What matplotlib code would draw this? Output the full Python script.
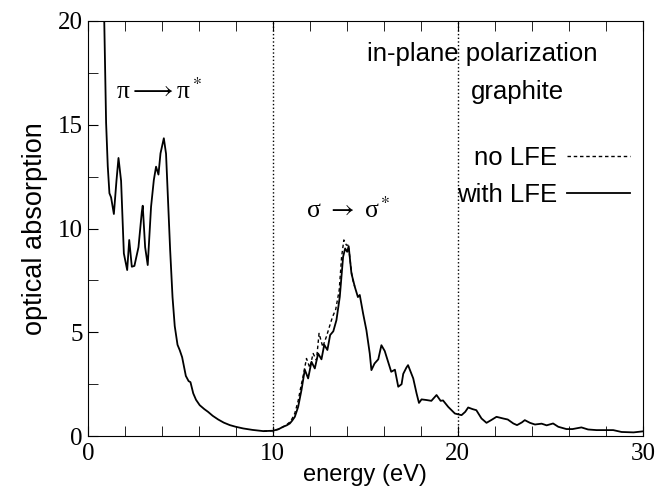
import numpy as np
import matplotlib
matplotlib.use("Agg")
from matplotlib import pyplot as plt
from matplotlib.ticker import MultipleLocator

plt.rcParams['mathtext.fontset'] = 'stix'

# with LFE (solid)
energy = [0.85, 0.9, 0.99, 1.08, 1.17, 1.26, 1.41, 1.55, 1.66, 1.8, 1.95, 2.13, 2.24, 2.38,
          2.52, 2.74, 2.92, 2.97, 3.1, 3.24, 3.42, 3.57, 3.69, 3.82, 3.93, 4.11, 4.23, 4.32,
          4.45, 4.58, 4.7, 4.85, 4.97, 5.1, 5.3, 5.45, 5.55, 5.7, 5.85, 6.05, 6.3, 6.5,
          6.75, 7.05, 7.35, 7.68, 8.0, 8.4, 8.9, 9.5, 10.0, 10.3, 10.56, 10.75, 10.92,
          11.05, 11.19, 11.37, 11.55, 11.73, 11.91, 12.09, 12.27, 12.45, 12.63, 12.78,
          12.95, 13.1, 13.27, 13.44, 13.62, 13.8, 13.91, 14.02, 14.1, 14.25, 14.43, 14.6,
          14.7, 14.88, 15.06, 15.24, 15.33, 15.5, 15.7, 15.87, 16.05, 16.23, 16.4, 16.6,
          16.78, 16.96, 17.05, 17.22, 17.31, 17.45, 17.59, 17.77, 17.9, 18.04, 18.3, 18.57,
          18.85, 19.07, 19.2, 19.48, 19.84, 20.2, 20.4, 20.56, 20.8, 21.0, 21.28, 21.55,
          21.8, 22.09, 22.45, 22.7, 23.0, 23.2, 23.46, 23.62, 23.9, 24.17, 24.53, 24.8,
          25.15, 25.43, 25.87, 26.2, 26.68, 27.04, 27.5, 27.86, 28.4, 28.85, 29.5, 30.0]
with_lfe = [22.0, 19.5, 15.1, 13.0, 11.7, 11.5, 10.7, 12.3, 13.4, 12.3, 8.8, 8.0, 9.45, 8.16,
            8.2, 9.1, 10.8, 11.1, 9.1, 8.24, 11.05, 12.34, 12.98, 12.6, 13.62, 14.35, 13.6, 11.7,
            9.0, 6.7, 5.3, 4.4, 4.14, 3.8, 2.9, 2.65, 2.6, 2.06, 1.75, 1.49, 1.3, 1.17,
            0.98, 0.8, 0.65, 0.53, 0.45, 0.37, 0.3, 0.24, 0.26, 0.33, 0.45, 0.52, 0.61,
            0.75, 0.93, 1.41, 2.22, 3.2, 2.78, 3.58, 3.26, 3.98, 3.7, 4.4,
            4.15, 4.87, 5.05, 5.59, 6.71, 8.64, 9.04, 8.88, 9.15, 7.84, 7.2, 6.7,
            6.8, 5.91, 5.1, 3.98, 3.18, 3.5, 3.7, 4.38, 4.1, 3.58, 3.1, 3.2,
            2.38, 2.5, 3.0, 3.3, 3.42, 3.1, 2.78, 2.06, 1.6, 1.77, 1.74, 1.7,
            1.98, 1.7, 1.72, 1.41, 1.09, 1.01, 1.17, 1.38, 1.3, 1.25, 0.85, 0.64,
            0.77, 0.93, 0.85, 0.8, 0.61, 0.53, 0.66, 0.77, 0.64, 0.56, 0.6, 0.52,
            0.61, 0.45, 0.34, 0.34, 0.42, 0.32, 0.29, 0.29, 0.29, 0.2, 0.18, 0.23]

# no LFE (dashed) - only differs in the sigma->sigma* rise
energy_nolfe = [9.5, 10.0, 10.3, 10.56, 10.75, 10.92, 11.05, 11.19, 11.37, 11.5, 11.64, 11.82,
                12.0, 12.18, 12.36, 12.5, 12.7, 12.9, 13.06, 13.23, 13.4, 13.59, 13.72, 13.84,
                13.98, 14.09, 14.2, 14.3, 14.43]
no_lfe = [0.24, 0.26, 0.33, 0.45, 0.55, 0.68, 0.85, 1.1, 1.7, 2.3, 2.9, 3.74,
          3.3, 3.98, 3.66, 4.95, 4.3, 4.8, 5.27, 5.75, 6.1, 7.04, 8.64, 9.45,
          9.2, 9.2, 8.3, 7.6, 7.2]

fig = plt.figure(figsize=(6.6, 4.99), dpi=100)
ax = fig.add_axes([0.133, 0.126, 0.841, 0.832])

ax.plot(energy_nolfe, no_lfe, color='black', lw=1.0, ls=(0, (2.5, 2)), label='no LFE')
ax.plot(energy, with_lfe, color='black', lw=1.3, label='with LFE')
ax.axvline(10, color='black', lw=1, ls=':')
ax.axvline(20, color='black', lw=1, ls=':')

ax.set_xlim(0, 30)
ax.set_ylim(0, 20)
ax.xaxis.set_major_locator(MultipleLocator(10))
ax.xaxis.set_minor_locator(MultipleLocator(2))
ax.yaxis.set_major_locator(MultipleLocator(5))
ax.yaxis.set_minor_locator(MultipleLocator(2.5))
ax.tick_params(which='both', direction='in', top=True, right=False,
               labelfontfamily='Liberation Serif', labelsize=18)
ax.tick_params(which='major', length=7)
ax.tick_params(which='minor', length=7)
ax.tick_params(axis='x', pad=5)

ax.set_xlabel('energy (eV)', family='Liberation Sans', fontsize=17, labelpad=-1)
ax.set_ylabel('optical absorption', family='Liberation Sans', fontsize=19.5, labelpad=7)

ax.text(15.1, 18.4, 'in-plane polarization', family='Liberation Sans', fontsize=18.5,
        va='center', ha='left')
ax.text(23.2, 16.6, 'graphite', family='Liberation Sans', fontsize=18.5, va='center', ha='center')
ax.text(1.55, 16.6, r'π$\longrightarrow$π$^*$', family='Liberation Serif', fontsize=18.5,
        va='center', ha='left')
ax.text(11.8, 10.9, r'σ $\rightarrow$ σ$^*$', family='Liberation Serif', fontsize=18.5,
        va='center', ha='left')

leg = ax.legend(loc='upper right', bbox_to_anchor=(1.0, 0.73), frameon=False, markerfirst=False,
                prop={'family': 'Liberation Sans', 'size': 18.5}, handlelength=2.45,
                handletextpad=0.4, labelspacing=0.5, borderpad=0, borderaxespad=0.5)

fig.savefig('out.png', dpi=100)
